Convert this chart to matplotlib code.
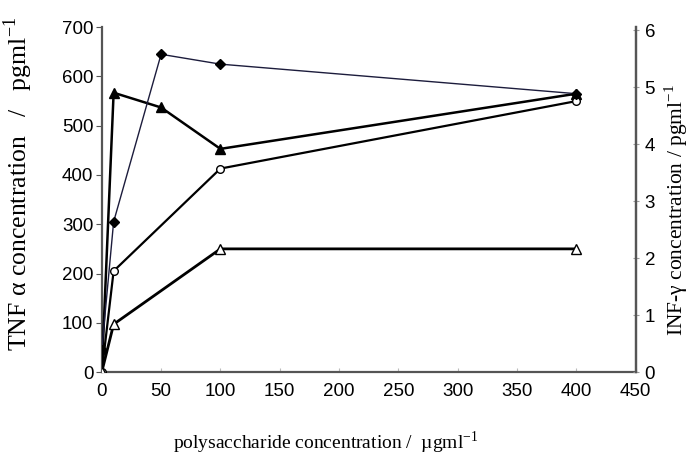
import matplotlib.pyplot as plt

# polysaccharide dose (ug/ml) and cytokine readings
dose_diamond = [0, 10, 50, 100, 400]
tnf_diamond = [45, 305, 645, 625, 565]

dose_tri = [0, 10, 50, 100, 400]
tnf_tri = [0, 567, 537, 453, 565]

dose_circle = [0, 10, 100, 400]
tnf_circle = [0, 205, 413, 550]

dose_open_tri = [0, 10, 100, 400]
tnf_open_tri = [0, 97, 250, 250]

x_ticks = [0, 50, 100, 150, 200, 250, 300, 350, 400, 450]
left_ticks = [0, 100, 200, 300, 400, 500, 600, 700]
right_ticks = [0, 1, 2, 3, 4, 5, 6]

sans = "Liberation Sans"
serif = "Liberation Serif"
axis_grey = "#555555"

fig = plt.figure(figsize=(6.97, 4.61), dpi=100)
ax = fig.add_axes([0.146, 0.193, 0.766, 0.748])

ax.plot(dose_diamond, tnf_diamond, color="#1c1c3c", lw=1.0,
        marker="D", ms=5, mfc="black", mec="black", zorder=4)
ax.plot(dose_tri, tnf_tri, color="black", lw=1.8,
        marker="^", ms=7, mfc="black", mec="black", zorder=3)
ax.plot(dose_circle, tnf_circle, color="black", lw=1.6,
        marker="o", ms=5.5, mfc="white", mec="black", mew=1.0, zorder=3)
ax.plot(dose_open_tri, tnf_open_tri, color="black", lw=2.0,
        marker="^", ms=7, mfc="white", mec="black", mew=1.0, zorder=3)

ax.set_xlim(0, 450)
ax.set_ylim(0, 700)
ax.set_xticks(x_ticks)
ax.set_yticks(left_ticks)
ax.spines["top"].set_visible(False)
for side in ["left", "bottom", "right"]:
    ax.spines[side].set_color(axis_grey)
    ax.spines[side].set_linewidth(1.6)
ax.tick_params(axis="y", direction="out", length=4, color=axis_grey,
               labelsize=13.5, pad=2)
ax.tick_params(axis="x", direction="in", length=3, color="#bbbbbb",
               labelsize=13.5, pad=8)
for lab in ax.get_xticklabels() + ax.get_yticklabels():
    lab.set_fontfamily(sans)

ax.set_ylabel("TNF α concentration   /   pgml$^{\\mathregular{-1}}$",
              fontfamily=serif, fontsize=18.5)
ax.yaxis.set_label_coords(-0.125, 0.545)
ax.set_xlabel("polysaccharide concentration /  µgml$^{\\mathregular{-1}}$",
              fontfamily=serif, fontsize=14)
ax.xaxis.set_label_coords(0.42, -0.165)

# second scale for INF-gamma
ax2 = ax.twinx()
ax2.set_ylim(0, 6.05)
ax2.set_yticks(right_ticks)
for side in ["top", "left", "bottom"]:
    ax2.spines[side].set_visible(False)
ax2.spines["right"].set_color(axis_grey)
ax2.spines["right"].set_linewidth(1.6)
ax2.tick_params(axis="y", direction="inout", length=5, color="#999999",
                labelsize=13.5, pad=4)
for lab in ax2.get_yticklabels():
    lab.set_fontfamily(sans)
ax2.set_ylabel("INF-γ concentration / pgml$^{\\mathregular{-1}}$",
               fontfamily=serif, fontsize=15.5)
ax2.yaxis.set_label_coords(1.05, 0.47)

fig.savefig("out.png", dpi=100)
